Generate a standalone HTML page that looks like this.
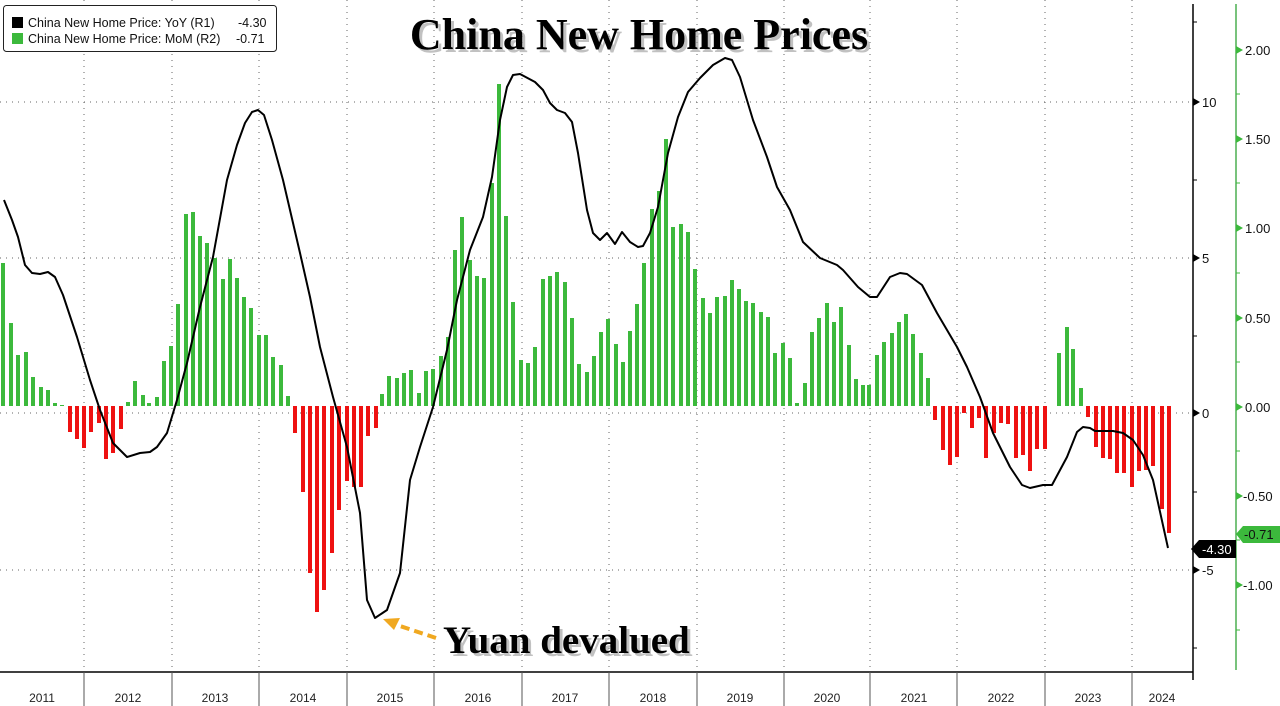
<!DOCTYPE html>
<html><head><meta charset="utf-8"><style>
html,body{margin:0;padding:0;background:#fff;}
svg{display:block;font-family:"Liberation Sans",sans-serif;}
</style></head><body>
<svg id="c" width="1280" height="706" viewBox="0 0 1280 706" xmlns="http://www.w3.org/2000/svg">
<rect width="1280" height="706" fill="#fff"/>
<g stroke="#666" stroke-width="1" stroke-dasharray="1,5">
<line x1="0" y1="102" x2="1193" y2="102"/>
<line x1="0" y1="258" x2="1193" y2="258"/>
<line x1="0" y1="413" x2="1193" y2="413"/>
<line x1="0" y1="570" x2="1193" y2="570"/>
<line x1="84" y1="0" x2="84" y2="672"/><line x1="172" y1="0" x2="172" y2="672"/>
<line x1="259" y1="0" x2="259" y2="672"/><line x1="347" y1="0" x2="347" y2="672"/>
<line x1="434" y1="0" x2="434" y2="672"/><line x1="522" y1="0" x2="522" y2="672"/>
<line x1="609" y1="0" x2="609" y2="672"/><line x1="697" y1="0" x2="697" y2="672"/>
<line x1="784" y1="0" x2="784" y2="672"/><line x1="870" y1="0" x2="870" y2="672"/>
<line x1="957" y1="0" x2="957" y2="672"/><line x1="1045" y1="0" x2="1045" y2="672"/>
<line x1="1132" y1="0" x2="1132" y2="672"/>
</g>
<g id="bars"></g>
<polyline fill="none" stroke="#000" stroke-width="2" stroke-linejoin="round" points="4,200 12,220 18,237 25,265 32,273 40,274 48,272 55,277 63,295 77,337 90,380 100,410 113,443 127,457 140,453 150,452 157,447 167,433 177,400 187,363 200,307 213,257 227,180 237,145 245,123 252,112 258,110 264,115 272,140 283,180 300,253 310,297 320,347 333,397 347,447 360,513 367,600 375,618 387,610 400,573 410,480 420,447 433,407 447,350 457,300 470,250 483,217 492,177 500,120 507,87 513,75 520,74 535,82 543,90 550,103 557,110 565,113 572,122 578,153 587,210 593,233 600,240 607,233 615,244 622,232 630,242 638,247 643,246 650,233 658,207 668,153 678,117 688,92 700,78 713,65 725,58 732,60 740,77 753,120 767,157 777,187 790,210 803,242 820,258 837,265 843,270 858,287 870,297 877,297 890,277 900,273 907,274 922,285 937,313 957,347 967,367 980,397 993,433 1010,467 1022,485 1030,488 1043,485 1052,485 1067,457 1077,432 1083,427 1090,428 1095,431 1113,431 1123,433 1133,440 1143,455 1153,480 1168,548"/>
<line x1="0" y1="672" x2="1193" y2="672" stroke="#000" stroke-width="1.5"/>
<g stroke="#555" stroke-width="1">
<line x1="84" y1="672" x2="84" y2="706"/><line x1="172" y1="672" x2="172" y2="706"/>
<line x1="259" y1="672" x2="259" y2="706"/><line x1="347" y1="672" x2="347" y2="706"/>
<line x1="434" y1="672" x2="434" y2="706"/><line x1="522" y1="672" x2="522" y2="706"/>
<line x1="609" y1="672" x2="609" y2="706"/><line x1="697" y1="672" x2="697" y2="706"/>
<line x1="784" y1="672" x2="784" y2="706"/><line x1="870" y1="672" x2="870" y2="706"/>
<line x1="957" y1="672" x2="957" y2="706"/><line x1="1045" y1="672" x2="1045" y2="706"/>
<line x1="1132" y1="672" x2="1132" y2="706"/>
</g>
<g font-size="12" fill="#222" text-anchor="middle">
<text x="42" y="702">2011</text><text x="128" y="702">2012</text><text x="215" y="702">2013</text>
<text x="303" y="702">2014</text><text x="390" y="702">2015</text><text x="478" y="702">2016</text>
<text x="565" y="702">2017</text><text x="653" y="702">2018</text><text x="740" y="702">2019</text>
<text x="827" y="702">2020</text><text x="914" y="702">2021</text><text x="1001" y="702">2022</text>
<text x="1088" y="702">2023</text><text x="1162" y="702">2024</text>
</g>
<line x1="1193" y1="4" x2="1193" y2="680" stroke="#000" stroke-width="1.5"/>
<g fill="#000">
<polygon points="1193,98 1200,102 1193,106"/><polygon points="1193,254 1200,258 1193,262"/>
<polygon points="1193,409 1200,413 1193,417"/><polygon points="1193,566 1200,570 1193,574"/>
</g>
<g stroke="#000"><line x1="1193" y1="22" x2="1197" y2="22"/><line x1="1193" y1="180" x2="1197" y2="180"/><line x1="1193" y1="336" x2="1197" y2="336"/><line x1="1193" y1="492" x2="1197" y2="492"/><line x1="1193" y1="648" x2="1197" y2="648"/></g>
<g font-size="13" fill="#111">
<text x="1202" y="107">10</text><text x="1202" y="263">5</text><text x="1202" y="418">0</text><text x="1202" y="575">-5</text>
</g>
<line x1="1236" y1="4" x2="1236" y2="670" stroke="#4caf50" stroke-width="1.5"/>
<g fill="#3cb93c">
<polygon points="1236,46 1243,50 1236,54"/><polygon points="1236,135 1243,139 1236,143"/>
<polygon points="1236,224 1243,228 1236,232"/><polygon points="1236,314 1243,318 1236,322"/>
<polygon points="1236,403 1243,407 1236,411"/><polygon points="1236,492 1243,496 1236,500"/>
<polygon points="1236,581 1243,585 1236,589"/>
</g>
<g stroke="#3cb93c"><line x1="1236" y1="94" x2="1240" y2="94"/><line x1="1236" y1="183" x2="1240" y2="183"/><line x1="1236" y1="273" x2="1240" y2="273"/><line x1="1236" y1="362" x2="1240" y2="362"/><line x1="1236" y1="451" x2="1240" y2="451"/><line x1="1236" y1="540" x2="1240" y2="540"/><line x1="1236" y1="630" x2="1240" y2="630"/></g>
<g font-size="13" fill="#111">
<text x="1245" y="55">2.00</text><text x="1245" y="144">1.50</text><text x="1245" y="233">1.00</text>
<text x="1245" y="323">0.50</text><text x="1245" y="412">0.00</text><text x="1243" y="501">-0.50</text><text x="1243" y="590">-1.00</text>
</g>
<polygon points="1191,549 1199,540 1236,540 1236,558 1199,558" fill="#000"/>
<text x="1202" y="554" font-size="13" fill="#fff">-4.30</text>
<polygon points="1236,534 1243,526 1280,526 1280,543 1243,543" fill="#3cb93c"/>
<text x="1244" y="539" font-size="13" fill="#111">-0.71</text>
<rect x="3.5" y="5.5" width="273" height="46" rx="3" fill="#fff" stroke="#222" stroke-width="1"/>
<rect x="12" y="17" width="11" height="11" fill="#000"/>
<rect x="12" y="33" width="11" height="11" fill="#3cb93c"/>
<g font-size="12.5" fill="#111">
<text x="28" y="27">China New Home Price: YoY (R1)</text><text x="238" y="27">-4.30</text>
<text x="28" y="43">China New Home Price: MoM (R2)</text><text x="236" y="43">-0.71</text>
</g>
<text x="642" y="52" font-family="Liberation Serif,serif" font-weight="bold" font-size="44" fill="#999" text-anchor="middle" opacity="0.6">China New Home Prices</text>
<text x="639" y="49" font-family="Liberation Serif,serif" font-weight="bold" font-size="44" fill="#000" text-anchor="middle">China New Home Prices</text>
<line x1="436" y1="638" x2="394" y2="624" stroke="#f0a820" stroke-width="4" stroke-dasharray="9,5"/>
<polygon points="383,619 400,618 394,630" fill="#f0a820"/>
<text x="446" y="656" font-family="Liberation Serif,serif" font-weight="bold" font-size="39" fill="#999" opacity="0.6">Yuan devalued</text>
<text x="443" y="653" font-family="Liberation Serif,serif" font-weight="bold" font-size="39" fill="#000">Yuan devalued</text>
</svg>
<script>
var d=[[3,263],[11,323],[18,355],[26,352],[33,377],[41,387],[48,390],[55,403],[62,405],
[70,432],[77,439],[84,448],[91,432],[99,423],[106,459],[113,453],[121,429],
[128,402],[135,381],[143,395],[149,403],[157,397],[164,361],[171,346],[178,304],[186,214],[193,212],[200,236],[207,243],[215,258],[223,279],[230,259],[237,278],[244,297],[251,308],[259,335],[266,335],[273,357],[281,365],[288,396],
[295,433],[303,492],[310,573],[317,612],[324,590],[332,553],[339,510],[347,481],[354,487],[361,487],[368,436],[376,428],
[382,394],[389,376],[397,378],[404,373],[411,370],[419,393],[426,371],[433,369],
[441,356],[448,337],[455,250],[462,217],[470,260],[477,276],[484,278],[492,183],[499,84],[506,216],[513,302],[521,360],[528,363],[535,347],[543,279],[550,276],[557,272],[565,282],[572,318],[579,364],[587,372],[594,356],[601,332],[608,319],[616,344],[623,362],[630,331],[637,304],[644,263],[652,209],[659,191],[666,139],[673,227],[681,224],[688,232],[695,269],[703,298],[710,313],[717,297],[725,296],[732,280],[739,289],[746,301],[753,303],[761,312],[768,317],[775,353],[783,343],[790,358],[797,403],[805,383],[812,332],[819,318],[827,303],[834,322],[841,307],[849,345],[856,379],
[863,385],[869,385],[877,355],[884,342],[892,333],[899,322],[906,314],[913,334],[921,353],[928,378],
[935,420],[943,450],[950,465],[957,457],[964,413],[972,428],[979,418],[986,458],[994,433],[1001,423],[1008,424],[1016,458],[1023,455],[1030,471],[1037,449],[1045,449],
[1059,353],[1067,327],[1073,349],[1081,388],
[1088,417],[1096,447],[1103,458],[1110,459],[1117,473],[1124,473],[1132,487],[1139,471],[1146,470],[1153,466],[1162,509],[1169,533]];
var g=document.getElementById('bars'),s='';
d.forEach(function(p){var z=406,y=p[1],t=Math.min(y,z),h=Math.abs(y-z);
s+='<rect x="'+(p[0]-2)+'" y="'+t+'" width="4" height="'+Math.max(h,1)+'" fill="'+(y<z?'#3cb93c':'#ee1111')+'"/>';});
g.innerHTML=s;
</script>
</body></html>
